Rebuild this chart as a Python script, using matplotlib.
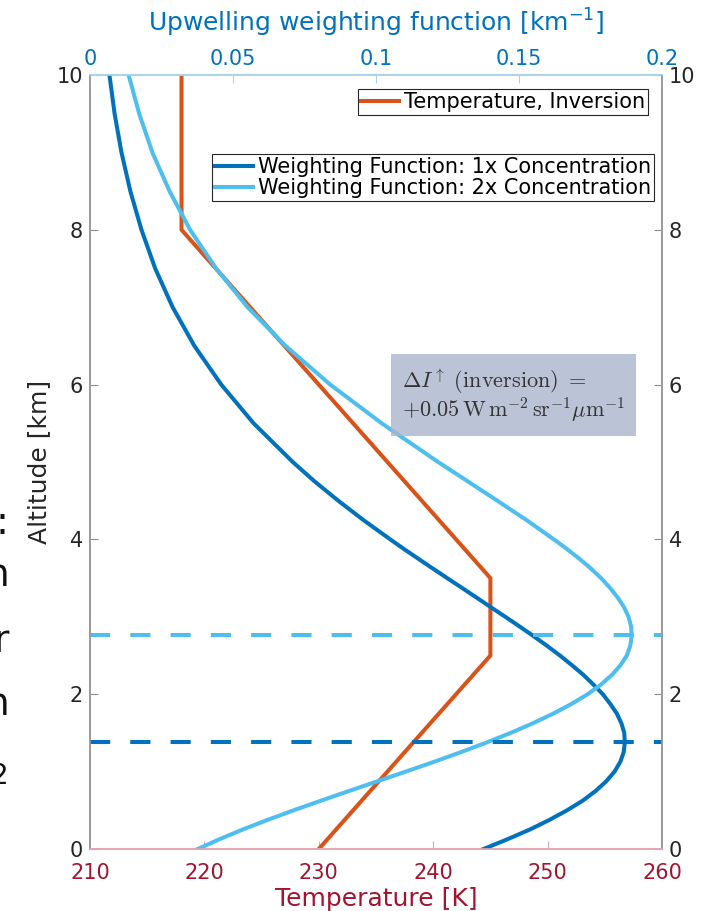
import numpy as np
import matplotlib as mp
import matplotlib.pyplot as plt

# altitude grid [km] the weighting functions were read on
alt_km = [0, 0.125, 0.25, 0.375, 0.5, 0.625, 0.75, 0.875, 1.0, 1.125, 1.25,
          1.375, 1.5, 1.625, 1.75, 1.875, 2.0, 2.125, 2.25, 2.375, 2.5, 2.625,
          2.75, 2.875, 3.0, 3.125, 3.25, 3.375, 3.5, 3.625, 3.75, 3.875, 4.0,
          4.25, 4.5, 4.75, 5.0, 5.5, 6.0, 6.5, 7.0, 7.5, 8.0, 8.5, 9.0, 9.5, 10.0]
# upwelling weighting function [km^-1]
wf_1x = [0.1376, 0.1459, 0.1537, 0.1606, 0.1668, 0.1723, 0.1768, 0.1805, 0.1834,
         0.1854, 0.1866, 0.1870, 0.1868, 0.1858, 0.1842, 0.1819, 0.1793, 0.1760,
         0.1725, 0.1685, 0.1643, 0.1598, 0.1551, 0.1502, 0.1452, 0.1401, 0.1351,
         0.1300, 0.1249, 0.1198, 0.1148, 0.1098, 0.1050, 0.0956, 0.0868, 0.0785,
         0.0709, 0.0572, 0.0459, 0.0365, 0.0289, 0.0228, 0.0180, 0.0141, 0.0110,
         0.0086, 0.0068]
wf_2x = [0.0377, 0.0452, 0.0533, 0.0620, 0.0712, 0.0808, 0.0906, 0.1005, 0.1104,
         0.1202, 0.1296, 0.1386, 0.1471, 0.1549, 0.1620, 0.1684, 0.1740, 0.1787,
         0.1825, 0.1855, 0.1877, 0.1889, 0.1894, 0.1892, 0.1883, 0.1867, 0.1845,
         0.1818, 0.1787, 0.1751, 0.1711, 0.1668, 0.1622, 0.1526, 0.1424, 0.1321,
         0.1217, 0.1020, 0.0840, 0.0684, 0.0551, 0.0441, 0.0350, 0.0278, 0.0218,
         0.0172, 0.0135]
# peak altitudes [km]
peak_1x = 1.38
peak_2x = 2.77

# temperature profile with inversion
temp_alt = [0, 2.5, 3.5, 8, 10]
temp_k = [230, 245, 245, 218, 218]

c_orange = "#D95319"
c_dark = "#0072BD"
c_light = "#4DBEEE"
c_red = "#A2142F"
c_txt = "#262626"

mp.rcParams["font.family"] = "DejaVu Sans"
mp.rcParams["font.size"] = 15

W, H = 702, 911
fig = plt.figure(figsize=(W / 100, H / 100), dpi=100)
ax = fig.add_axes([90 / W, 1 - 849 / H, 572 / W, 774 / H])
ax2 = ax.twiny()

ax.plot(temp_k, temp_alt, color=c_orange, lw=2.9, label="Temperature, Inversion",
        solid_joinstyle="miter")
ax.set_xlim(210, 260)
ax.set_ylim(0, 10)
ax.set_xticks(np.arange(210, 261, 10))
ax.set_yticks(np.arange(0, 11, 2))

ax2.plot(wf_1x, alt_km, color=c_dark, lw=2.9, label="Weighting Function: 1x Concentration")
ax2.plot(wf_2x, alt_km, color=c_light, lw=2.9, label="Weighting Function: 2x Concentration")
ax2.axhline(peak_1x, color=c_dark, lw=2.9, dashes=(5, 5))
ax2.axhline(peak_2x, color=c_light, lw=2.9, dashes=(5, 5))
ax2.set_xlim(0, 0.2)
ax2.set_xticks([0, 0.05, 0.1, 0.15, 0.2])
ax2.set_xticklabels(["0", "0.05", "0.1", "0.15", "0.2"])

# axis styling (MATLAB-like)
ax.tick_params(axis="x", direction="in", length=6, width=0.8, colors="#E3A6B2",
               labelcolor=c_red, labelsize=15, pad=10)
ax.tick_params(axis="y", direction="in", length=6, width=0.8, color="#8C8C8C",
               labelcolor=c_txt, labelsize=15, left=True, right=True,
               labelleft=True, labelright=True, pad=5)
ax2.tick_params(axis="x", direction="in", length=6, width=0.8, colors="#A9D2EE",
                labelcolor=c_dark, labelsize=15, pad=4)
for a in (ax, ax2):
    a.spines["left"].set_color("#9A9A9A")
    a.spines["right"].set_color("#9A9A9A")
    a.spines["bottom"].set_color("#E3A6B2")
    a.spines["top"].set_color("#A9D2EE")
    for s in a.spines.values():
        s.set_linewidth(1.2)

ax.set_xlabel("Temperature [K]", color=c_red, fontsize=18, labelpad=3)
ax.set_ylabel("Altitude [km]", color=c_txt, fontsize=18, labelpad=4)
ax2.set_xlabel("Upwelling weighting function [km$^{-1}$]", color=c_dark,
               fontsize=18, labelpad=13)

leg1 = ax.legend(loc="upper right", bbox_to_anchor=(0.9755, 0.982), borderaxespad=0,
                 fontsize=15, handlelength=1.8, handletextpad=0.25, borderpad=0.15,
                 fancybox=False, framealpha=1, edgecolor=c_txt)
leg1.get_frame().set_linewidth(0.8)
leg2 = ax2.legend(loc="upper right", bbox_to_anchor=(0.986, 0.898), borderaxespad=0,
                  fontsize=15, handlelength=1.8, handletextpad=0.25, borderpad=0.15,
                  labelspacing=0.05, fancybox=False, framealpha=1, edgecolor=c_txt)
leg2.get_frame().set_linewidth(0.8)

ax2.text(0.545, 0.586,
         r"$\Delta I^{\uparrow}\ \mathrm{(inversion)}\ =$" "\n"
         r"$+0.05\,\mathrm{W\,m^{-2}\,sr^{-1}}\mu\mathrm{m}^{-1}$",
         transform=ax.transAxes, fontsize=16, color="#333333", va="center",
         ha="left", linespacing=1.0, math_fontfamily="cm",
         bbox=dict(boxstyle="square,pad=0.5", facecolor="#A9B6CC", alpha=0.8,
                   edgecolor="none"), zorder=5)

# fragments of the neighbouring slide text, cut by the left edge
for s, yp, fs in [(":", 534, 28), ("n", 586, 27), ("r", 652, 27), ("n", 715, 27),
                  ("2", 784, 20)]:
    fig.text(9 / W, 1 - yp / H, s, ha="right", va="baseline", fontsize=fs, color="#111111")

fig.savefig("out.png", dpi=100, facecolor="white")
